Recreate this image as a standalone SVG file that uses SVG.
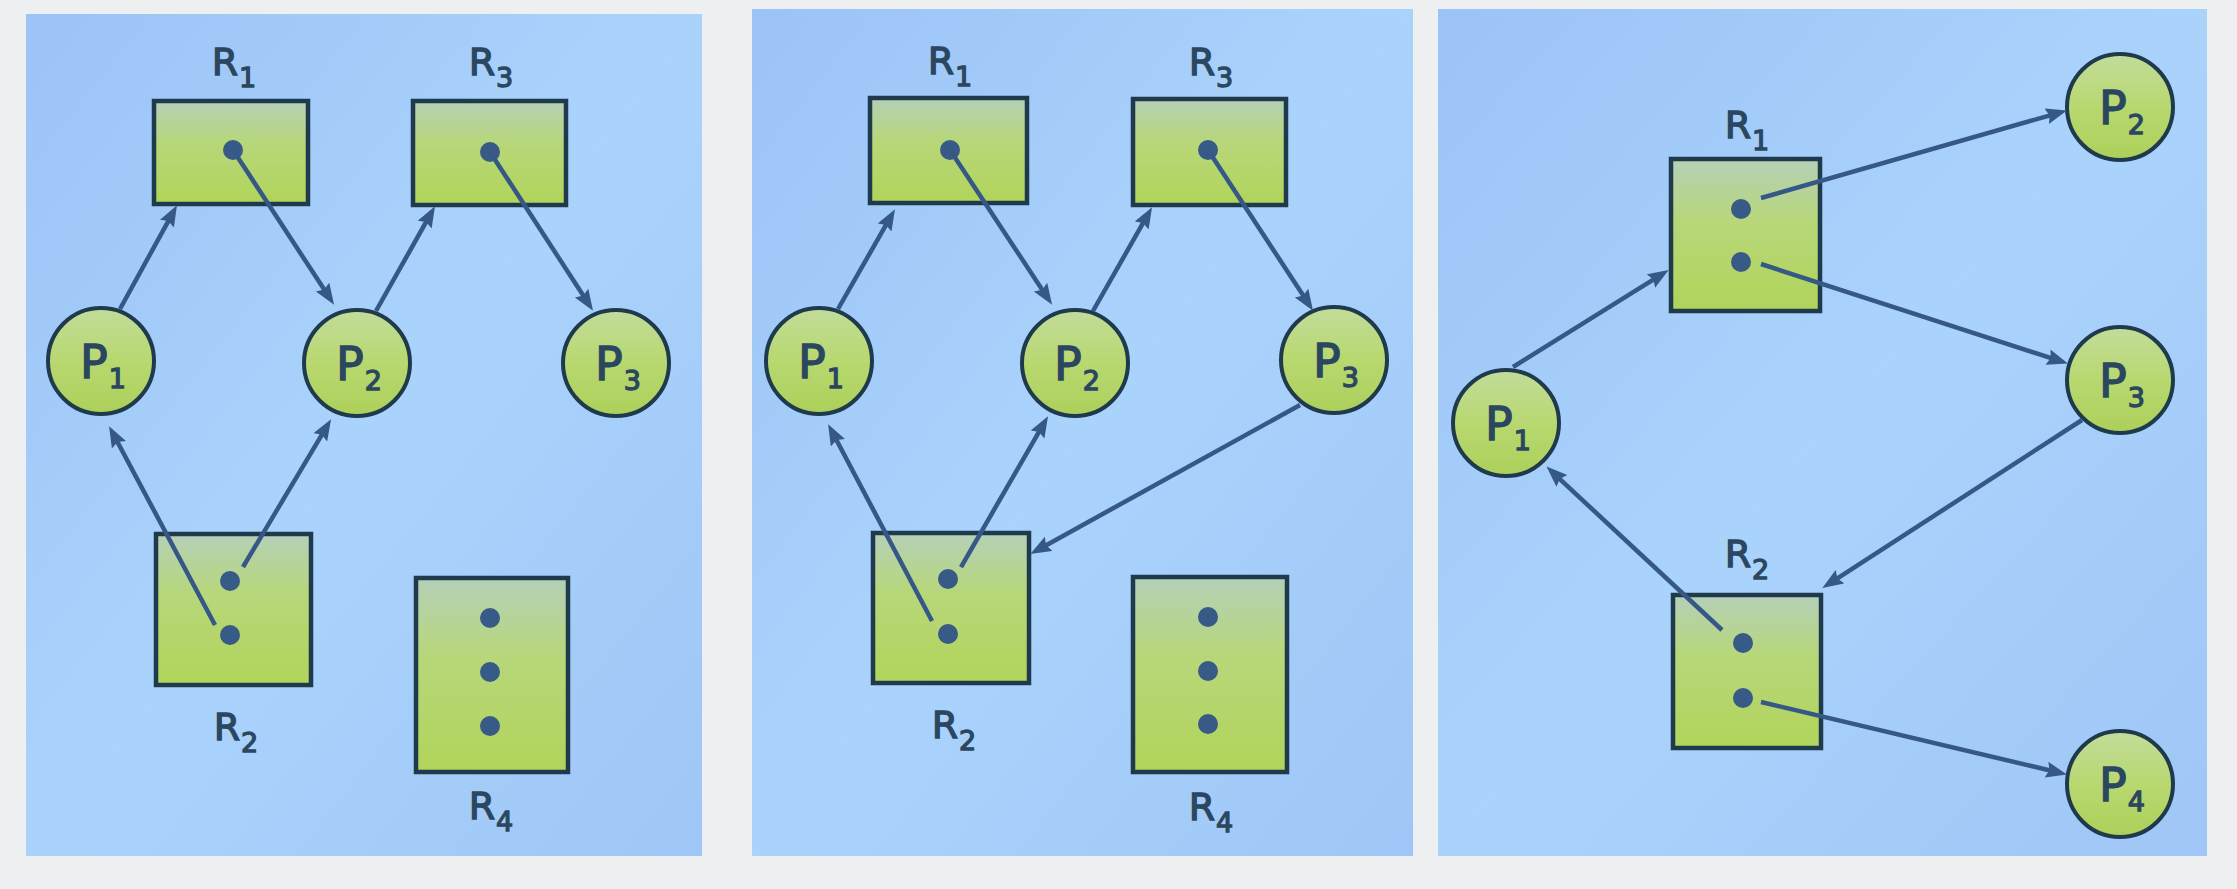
<svg xmlns="http://www.w3.org/2000/svg" width="2237" height="889" viewBox="0 0 2237 889">
<defs>
<linearGradient id="bg" x1="0" y1="0" x2="1" y2="1">
<stop offset="0" stop-color="#9cc3f6"/>
<stop offset="0.5" stop-color="#aad3fc"/>
<stop offset="1" stop-color="#9fc6f6"/>
</linearGradient>
<linearGradient id="rf" x1="0" y1="0" x2="0" y2="1">
<stop offset="0" stop-color="#b5d0b8"/>
<stop offset="0.4" stop-color="#b7d77a"/>
<stop offset="1" stop-color="#b1d45a"/>
</linearGradient>
<linearGradient id="cf" x1="0" y1="0" x2="0" y2="1">
<stop offset="0" stop-color="#c2dc9a"/>
<stop offset="0.5" stop-color="#b8d870"/>
<stop offset="1" stop-color="#acd05a"/>
</linearGradient>
<marker id="ah" markerUnits="userSpaceOnUse" markerWidth="24" markerHeight="18" refX="9" refY="8" orient="auto">
<path d="M0,0 L21,8 L0,16 L3,8 Z" fill="#355886"/>
</marker>
<style>
.panel{fill:url(#bg)}
.res{fill:url(#rf);stroke:#1e3a4c;stroke-width:4.5}
.proc{fill:url(#cf);stroke:#1e3a4c;stroke-width:4}
.dot{fill:#375a86}
.lbl{font-family:"DejaVu Sans","Verdana",sans-serif;fill:#2b4760;stroke:#2b4760;stroke-width:1.3;text-anchor:middle}
.rl{font-size:38px}
.pl{font-size:46px}
.sub{font-size:27px}
.edge{stroke:#355886;stroke-width:4.5;fill:none;marker-end:url(#ah)}
</style>
</defs>
<rect x="0" y="0" width="2237" height="889" fill="#eeeff0"/>
<rect class="panel" x="26" y="14" width="676" height="842"/>
<rect class="panel" x="752" y="9" width="661" height="847"/>
<rect class="panel" x="1438" y="9" width="769" height="847"/>

<!-- Panel 1 -->
<g id="a-R1"><rect class="res" x="154" y="101" width="154" height="103"/><circle class="dot" cx="233" cy="150" r="10"/><text class="lbl rl" x="234" y="75">R<tspan class="sub" dx="1" dy="12">1</tspan></text></g>
<g id="a-R3"><rect class="res" x="413" y="101" width="153" height="104"/><circle class="dot" cx="490" cy="152" r="10"/><text class="lbl rl" x="491" y="75">R<tspan class="sub" dx="1" dy="12">3</tspan></text></g>
<g id="a-R2"><rect class="res" x="156" y="534" width="155" height="151"/><circle class="dot" cx="230" cy="581" r="10"/><circle class="dot" cx="230" cy="635" r="10"/><text class="lbl rl" x="236" y="740">R<tspan class="sub" dx="1" dy="12">2</tspan></text></g>
<g id="a-R4"><rect class="res" x="416" y="578" width="152" height="194"/><circle class="dot" cx="490" cy="618" r="10"/><circle class="dot" cx="490" cy="672" r="10"/><circle class="dot" cx="490" cy="726" r="10"/><text class="lbl rl" x="491" y="819">R<tspan class="sub" dx="1" dy="12">4</tspan></text></g>
<g id="a-P1"><circle class="proc" cx="101" cy="361" r="53"/><text class="lbl pl" x="103" y="378">P<tspan class="sub" dx="1" dy="10">1</tspan></text></g>
<g id="a-P2"><circle class="proc" cx="357" cy="363" r="53"/><text class="lbl pl" x="359" y="380">P<tspan class="sub" dx="1" dy="10">2</tspan></text></g>
<g id="a-P3"><circle class="proc" cx="616" cy="363" r="53"/><text class="lbl pl" x="618" y="380">P<tspan class="sub" dx="1" dy="10">3</tspan></text></g>

<!-- Panel 2 -->
<g id="b-R1"><rect class="res" x="870" y="98" width="157" height="105"/><circle class="dot" cx="950" cy="150" r="10"/><text class="lbl rl" x="950" y="74">R<tspan class="sub" dx="1" dy="12">1</tspan></text></g>
<g id="b-R3"><rect class="res" x="1133" y="99" width="153" height="106"/><circle class="dot" cx="1208" cy="150" r="10"/><text class="lbl rl" x="1211" y="75">R<tspan class="sub" dx="1" dy="12">3</tspan></text></g>
<g id="b-R2"><rect class="res" x="873" y="533" width="156" height="150"/><circle class="dot" cx="948" cy="579" r="10"/><circle class="dot" cx="948" cy="634" r="10"/><text class="lbl rl" x="954" y="738">R<tspan class="sub" dx="1" dy="12">2</tspan></text></g>
<g id="b-R4"><rect class="res" x="1133" y="577" width="154" height="195"/><circle class="dot" cx="1208" cy="617" r="10"/><circle class="dot" cx="1208" cy="671" r="10"/><circle class="dot" cx="1208" cy="724" r="10"/><text class="lbl rl" x="1211" y="820">R<tspan class="sub" dx="1" dy="12">4</tspan></text></g>
<g id="b-P1"><circle class="proc" cx="819" cy="361" r="53"/><text class="lbl pl" x="821" y="378">P<tspan class="sub" dx="1" dy="10">1</tspan></text></g>
<g id="b-P2"><circle class="proc" cx="1075" cy="363" r="53"/><text class="lbl pl" x="1077" y="380">P<tspan class="sub" dx="1" dy="10">2</tspan></text></g>
<g id="b-P3"><circle class="proc" cx="1334" cy="360" r="53"/><text class="lbl pl" x="1336" y="377">P<tspan class="sub" dx="1" dy="10">3</tspan></text></g>

<!-- Panel 3 -->
<g id="c-R1"><rect class="res" x="1671" y="159" width="149" height="152"/><circle class="dot" cx="1741" cy="209" r="10"/><circle class="dot" cx="1741" cy="262" r="10"/><text class="lbl rl" x="1747" y="138">R<tspan class="sub" dx="1" dy="12">1</tspan></text></g>
<g id="c-R2"><rect class="res" x="1673" y="595" width="148" height="153"/><circle class="dot" cx="1743" cy="643" r="10"/><circle class="dot" cx="1743" cy="698" r="10"/><text class="lbl rl" x="1747" y="567">R<tspan class="sub" dx="1" dy="12">2</tspan></text></g>
<g id="c-P1"><circle class="proc" cx="1506" cy="423" r="53"/><text class="lbl pl" x="1508" y="440">P<tspan class="sub" dx="1" dy="10">1</tspan></text></g>
<g id="c-P2"><circle class="proc" cx="2120" cy="107" r="53"/><text class="lbl pl" x="2122" y="124">P<tspan class="sub" dx="1" dy="10">2</tspan></text></g>
<g id="c-P3"><circle class="proc" cx="2120" cy="380" r="53"/><text class="lbl pl" x="2122" y="397">P<tspan class="sub" dx="1" dy="10">3</tspan></text></g>
<g id="c-P4"><circle class="proc" cx="2120" cy="784" r="53"/><text class="lbl pl" x="2122" y="801">P<tspan class="sub" dx="1" dy="10">4</tspan></text></g>

<g id="connectors">
<line class="edge" x1="120" y1="309" x2="171.2" y2="215.8"/>
<line class="edge" x1="233" y1="150" x2="327.5" y2="294.6"/>
<line class="edge" x1="376" y1="311" x2="429.1" y2="216.7"/>
<line class="edge" x1="490" y1="152" x2="586.5" y2="300.6"/>
<line class="edge" x1="215" y1="625" x2="114.7" y2="436.8"/>
<line class="edge" x1="243" y1="567" x2="324.9" y2="429.6"/>

<line class="edge" x1="838" y1="309" x2="889.0" y2="219.7"/>
<line class="edge" x1="950" y1="150" x2="1045.5" y2="294.7"/>
<line class="edge" x1="1093" y1="311" x2="1146.1" y2="217.7"/>
<line class="edge" x1="1208" y1="150" x2="1306.5" y2="300.6"/>
<line class="edge" x1="932" y1="621" x2="833.7" y2="434.8"/>
<line class="edge" x1="961" y1="567" x2="1042" y2="426.7"/>
<line class="edge" x1="1300" y1="405" x2="1040.8" y2="548.2"/>

<line class="edge" x1="1513" y1="367" x2="1658.5" y2="276.3"/>
<line class="edge" x1="1761" y1="198" x2="2055.4" y2="113.8"/>
<line class="edge" x1="1761" y1="264" x2="2056.5" y2="359.9"/>
<line class="edge" x1="2082" y1="420" x2="1832.4" y2="581.6"/>
<line class="edge" x1="1722" y1="630" x2="1555.3" y2="474.8"/>
<line class="edge" x1="1761" y1="702" x2="2055.3" y2="771.7"/>
</g>
</svg>
